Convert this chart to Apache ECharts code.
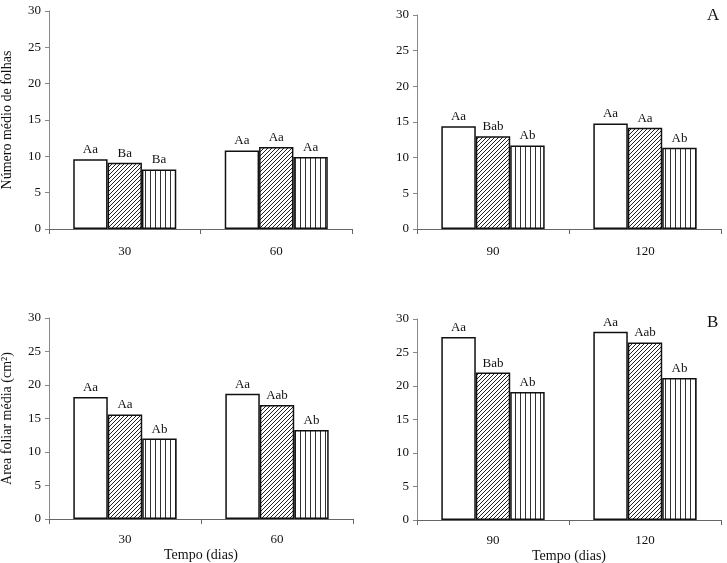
<!DOCTYPE html>
<html><head><meta charset="utf-8">
<script src="https://cdn.jsdelivr.net/npm/echarts@6/dist/echarts.min.js"></script>
<style>html,body{margin:0;padding:0;background:#fff}#c{width:727px;height:563px}</style>
</head><body><div id="c"></div>
<script>
// ---- data ----
const catsEarly = ['30', '60'];
const catsLate = ['90', '120'];
const yTicks = [0, 5, 10, 15, 20, 25, 30];

// A: número médio de folhas
const leavesEarly = [[9.6, 10.8], [9.1, 11.3], [8.2, 9.9]];   // series x category
const leavesLate  = [[14.4, 14.8], [13.0, 14.2], [11.7, 11.4]];
const leavesEarlyLbl = [['Aa', 'Aa'], ['Ba', 'Aa'], ['Ba', 'Aa']];
const leavesLateLbl  = [['Aa', 'Aa'], ['Bab', 'Aa'], ['Ab', 'Ab']];

// B: área foliar média
const areaEarly = [[18.2, 18.7], [15.6, 17.0], [12.0, 13.3]];
const areaLate  = [[27.3, 28.1], [22.0, 26.5], [19.1, 21.2]];
const areaEarlyLbl = [['Aa', 'Aa'], ['Aa', 'Aab'], ['Ab', 'Ab']];
const areaLateLbl  = [['Aa', 'Aa'], ['Bab', 'Aab'], ['Ab', 'Ab']];

const yNameTop = 'Número médio de folhas';
const yNameBot = 'Área foliar média (cm²)';
const xName = 'Tempo (dias)';

// ---- patterns ----
function diagPattern() {
  const c = document.createElement('canvas'); c.width = 4; c.height = 4;
  const g = c.getContext('2d');
  g.fillStyle = '#fff'; g.fillRect(0, 0, 4, 4);
  g.strokeStyle = '#222'; g.lineWidth = 1;
  g.beginPath(); g.moveTo(-1, 5); g.lineTo(5, -1); g.stroke();
  g.beginPath(); g.moveTo(-1, 1); g.lineTo(1, -1); g.stroke();
  g.beginPath(); g.moveTo(3, 5); g.lineTo(5, 3); g.stroke();
  return c;
}
function vertPattern() {
  const c = document.createElement('canvas'); c.width = 5; c.height = 4;
  const g = c.getContext('2d');
  g.fillStyle = '#fff'; g.fillRect(0, 0, 5, 4);
  g.fillStyle = '#333'; g.fillRect(0, 0, 1, 4);
  return c;
}
const fills = ['#ffffff', { image: diagPattern(), repeat: 'repeat' }, { image: vertPattern(), repeat: 'repeat' }];

const FONT = 'Liberation Serif';
const grids = [
  { left: 49, top: 11, width: 303, height: 218 },
  { left: 417, top: 15, width: 304, height: 214 },
  { left: 49, top: 318, width: 304, height: 201 },
  { left: 417, top: 319, width: 304, height: 201 }
].map(g => Object.assign(g, { containLabel: false, outerBoundsMode: 'none' }));
const panels = [
  { cats: catsEarly, vals: leavesEarly, lbl: leavesEarlyLbl, yName: yNameTop, xName: '' },
  { cats: catsLate, vals: leavesLate, lbl: leavesLateLbl, yName: '', xName: '' },
  { cats: catsEarly, vals: areaEarly, lbl: areaEarlyLbl, yName: yNameBot, xName: xName },
  { cats: catsLate, vals: areaLate, lbl: areaLateLbl, yName: '', xName: xName }
];

const xAxis = [], yAxis = [], series = [];
panels.forEach((p, i) => {
  xAxis.push({
    type: 'category', gridIndex: i, data: p.cats,
    name: p.xName, nameLocation: 'middle', nameGap: 29,
    nameTextStyle: { fontFamily: FONT, fontSize: 14, color: '#111' },
    axisLine: { lineStyle: { color: '#666', width: 1 } },
    axisTick: { show: true, length: 5, lineStyle: { color: '#666' } },
    axisLabel: { fontFamily: FONT, fontSize: 13, color: '#111', margin: i < 2 ? 16 : 14 }
  });
  yAxis.push({
    type: 'value', gridIndex: i, min: 0, max: 30, interval: 5,
    name: p.yName, nameLocation: 'middle', nameGap: 35, nameRotate: 90,
    nameTextStyle: { fontFamily: FONT, fontSize: 14, color: '#111' },
    splitLine: { show: false },
    axisLine: { show: true, lineStyle: { color: '#888', width: 1 } },
    axisTick: { show: true, length: 4, lineStyle: { color: '#888' } },
    axisLabel: { fontFamily: FONT, fontSize: 13, color: '#111', margin: 8,
      formatter: v => yTicks.includes(v) ? String(v) : '' }
  });
  p.vals.forEach((vals, s) => {
    series.push({
      type: 'bar', xAxisIndex: i, yAxisIndex: i,
      data: vals.map((v, k) => ({ value: v, label: { formatter: p.lbl[s][k] } })),
      barGap: '0%', barCategoryGap: '32%',
      itemStyle: { color: fills[s], borderColor: '#111', borderWidth: 1.5 },
      label: { show: true, position: 'top', distance: 3, fontFamily: FONT, fontSize: 13, color: '#111' },
      silent: true, animation: false
    });
  });
});

const chart = echarts.init(document.getElementById('c'), null, { renderer: 'canvas' });
chart.setOption({
  backgroundColor: '#fff',
  animation: false,
  grid: grids,
  xAxis, yAxis, series,
  graphic: [
    { type: 'text', left: 707, top: 7, style: { text: 'A', font: '17px "Liberation Serif"', fill: '#111' } },
    { type: 'text', left: 707, top: 314, style: { text: 'B', font: '17px "Liberation Serif"', fill: '#111' } }
  ]
});
</script></body></html>
